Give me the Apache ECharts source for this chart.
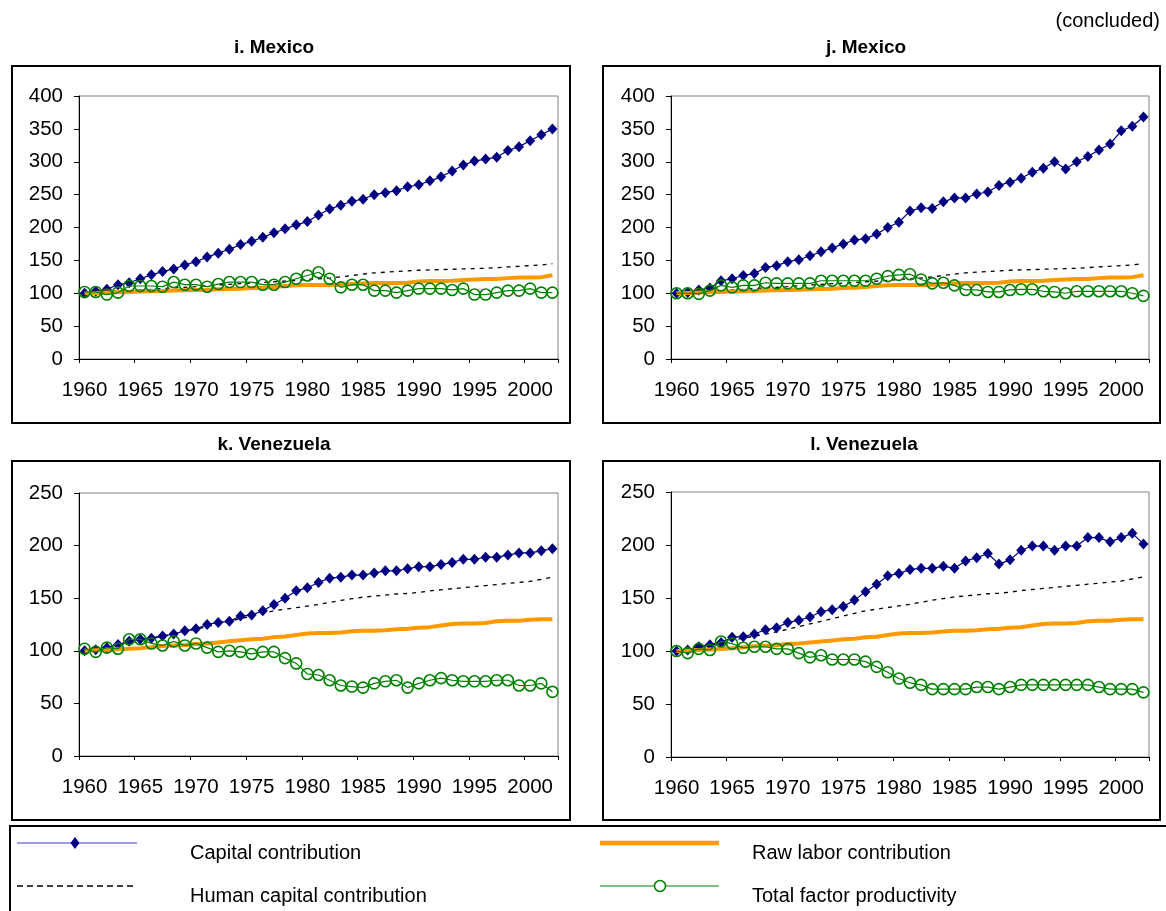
<!DOCTYPE html>
<html>
<head>
<meta charset="utf-8">
<script src="https://cdn.jsdelivr.net/npm/echarts/dist/echarts.min.js"></script>
<style>
  html, body { margin: 0; padding: 0; background: #ffffff; }
  #chart { width: 1166px; height: 911px; }
</style>
</head>
<body>
<div id="chart"></div>
<script>
// Years on the horizontal axis (one point per year)
const years = [
  '1960','1961','1962','1963','1964','1965','1966','1967','1968','1969',
  '1970','1971','1972','1973','1974','1975','1976','1977','1978','1979',
  '1980','1981','1982','1983','1984','1985','1986','1987','1988','1989',
  '1990','1991','1992','1993','1994','1995','1996','1997','1998','1999',
  '2000','2001','2002'
];

// Panel titles
const panelTitles = ['i. Mexico', 'j. Mexico', 'k. Venezuela', 'l. Venezuela'];

// Series names
const seriesNames = ['Capital contribution', 'Raw labor contribution', 'Human capital contribution', 'Total factor productivity'];

// Mexico — shared labor and human capital indices (1960 = 100)
const mexicoRawLabor = [
  100, 100.5, 101, 101.5, 102, 102.5, 103, 103.5, 104, 104.5,
  105, 105.5, 106, 106.5, 107, 108, 108.5, 109.5, 111, 112,
  112.5, 112.5, 112.5, 113, 114, 115, 115.5, 115.5, 115.5, 116,
  118, 118.5, 118.5, 119, 120, 121, 121.5, 121.5, 123, 124,
  124, 124.5, 127.5
];
const mexicoHumanCapital = [
  100, 101, 102, 103, 104, 105, 106, 107, 108, 109,
  110, 111.5, 112.5, 113.5, 114.5, 115.5, 116.5, 117.5, 118.5, 119.5,
  121, 122, 123, 125, 127, 129, 131, 132, 133, 134,
  135, 135.5, 136, 136.5, 137, 137.5, 138, 139, 140, 141,
  142, 143, 145
];

// i. Mexico
const mexicoICapital = [
  100, 103, 106, 113, 116, 122, 128, 133, 137, 143,
  148, 155, 161, 167, 174, 179, 185, 192, 198, 204,
  209, 219, 228, 234, 240, 243, 250, 253, 256, 262,
  265, 271, 277, 286, 295, 301, 304, 307, 317, 323,
  332, 341, 350
];
const mexicoITfp = [
  102, 102, 98, 101, 111, 111, 111, 110, 117, 113,
  113, 110, 114, 117, 117, 117, 113, 113, 117, 122,
  127, 132, 122, 109, 113, 113, 104, 104, 101, 104,
  107, 107, 107, 105, 107, 98, 98, 101, 104, 104,
  107, 101, 101
];

// j. Mexico
const mexicoJCapital = [
  100, 101, 105, 108, 119, 122, 127, 130, 139, 142,
  148, 151, 157, 163, 169, 175, 181, 183, 190, 200,
  208, 225, 230, 229, 239, 245, 245, 251, 254, 264,
  269, 275, 284, 290, 300, 289, 300, 308, 318, 327,
  347, 354, 368
];
const mexicoJTfp = [
  100, 100, 99, 104, 112, 109, 112, 112, 116, 115,
  115, 115, 115, 119, 119, 119, 119, 119, 122, 126,
  128, 129, 121, 115, 116, 112, 105, 105, 102, 102,
  105, 106, 106, 103, 102, 100, 103, 103, 103, 103,
  103, 100, 96
];

// Venezuela — shared labor and human capital indices (1960 = 100)
const venezuelaRawLabor = [
  100, 100.5, 101, 101.5, 102, 102.5, 103.5, 104.5, 105, 105.5,
  106.5, 107, 108, 109, 110, 111, 111.5, 113, 113.5, 115,
  116.5, 117, 117, 117.5, 118.5, 119, 119, 119.5, 120.5, 121,
  122, 122.5, 124, 125.5, 126, 126, 126.5, 128, 128.5, 128.5,
  129.5, 130, 130
];
const venezuelaHumanCapital = [
  100, 102, 104, 106, 108, 110, 112, 114, 116, 118,
  120.5, 123, 125.5, 128, 130.5, 133, 135.5, 138, 139.5, 141,
  142.5, 144, 146, 148, 149.5, 151, 152, 153, 154, 154.5,
  155.5, 157, 158, 159, 160, 161, 162, 163, 164, 165,
  166, 168, 170
];

// k. Venezuela
const venezuelaKCapital = [
  100, 101, 103, 106, 109, 111, 112, 114, 116, 119,
  121, 125, 127, 128, 133, 134, 138, 144, 150, 157,
  160, 165, 169, 170, 172, 172, 174, 176, 176, 178,
  180, 180, 182, 184, 187, 187, 189, 189, 191, 193,
  193, 195, 197
];
const venezuelaKTfp = [
  102, 99, 103, 102, 111, 111, 107, 105, 109, 105,
  107, 103, 99, 100, 99, 97, 99, 99, 93, 88,
  78, 77, 72, 67, 66, 65, 69, 71, 72, 65,
  69, 72, 74, 72, 71, 71, 71, 72, 72, 67,
  67, 69, 61
];

// l. Venezuela
const venezuelaLCapital = [
  100, 101, 104, 106, 108, 113, 113.5, 116, 120, 122,
  127, 129, 132, 137, 139, 142, 148, 156, 163, 171,
  173, 177, 178, 178, 180, 178, 185, 188, 192, 182,
  186, 195, 199, 199, 195, 199, 199, 207, 207, 203,
  207, 211, 201
];
const venezuelaLTfp = [
  100, 98, 102, 101, 109, 107, 103, 104, 104, 102,
  102, 98, 94, 96, 92, 92, 92, 90, 85, 80,
  74, 70, 68, 64, 64, 64, 64, 66, 66, 64,
  66, 68, 68, 68, 68, 68, 68, 68, 66, 64,
  64, 64, 61
];

const FONT = '"Liberation Sans", Arial, Helvetica, sans-serif';
const NAVY = '#000080';
const ORANGE = '#FF9900';
const GREEN = '#008000';

// Frame, title anchor, plot area and value range for each panel
const panels = [
  { title: panelTitles[0], tx: 274, ty: 48, box: [12, 66, 558, 357],
    grid: { left: 79, top: 96, width: 479, height: 263 }, yMax: 400,
    capital: mexicoICapital, labor: mexicoRawLabor, human: mexicoHumanCapital, tfp: mexicoITfp },
  { title: panelTitles[1], tx: 866, ty: 48, box: [603, 66, 557, 357],
    grid: { left: 671, top: 96, width: 478, height: 263 }, yMax: 400,
    capital: mexicoJCapital, labor: mexicoRawLabor, human: mexicoHumanCapital, tfp: mexicoJTfp },
  { title: panelTitles[2], tx: 274, ty: 445, box: [12, 461, 558, 359],
    grid: { left: 79, top: 493, width: 479, height: 263 }, yMax: 250,
    capital: venezuelaKCapital, labor: venezuelaRawLabor, human: venezuelaHumanCapital, tfp: venezuelaKTfp },
  { title: panelTitles[3], tx: 864, ty: 445, box: [603, 461, 557, 359],
    grid: { left: 671, top: 492, width: 478, height: 265 }, yMax: 250,
    capital: venezuelaLCapital, labor: venezuelaRawLabor, human: venezuelaHumanCapital, tfp: venezuelaLTfp }
];

const grids = [], xAxes = [], yAxes = [], series = [], graphics = [];

panels.forEach((p, i) => {
  grids.push(Object.assign({ show: true, borderColor: '#808080', borderWidth: 1, backgroundColor: '#ffffff' }, p.grid));

  xAxes.push({
    type: 'category', gridIndex: i, data: years, boundaryGap: true,
    axisLine: { show: true, lineStyle: { color: '#000000', width: 1 } },
    axisTick: { show: true, interval: 4, length: 4, lineStyle: { color: '#000000' } },
    axisLabel: { interval: 4, margin: 21, color: '#000000', fontSize: 20.5, fontFamily: FONT },
    splitLine: { show: false }
  });

  yAxes.push({
    type: 'value', gridIndex: i, min: 0, max: p.yMax, interval: 50,
    axisLine: { show: true, lineStyle: { color: '#000000', width: 1 } },
    axisTick: { show: true, length: 5, lineStyle: { color: '#000000' } },
    axisLabel: { margin: 16, color: '#000000', fontSize: 20.5, fontFamily: FONT },
    splitLine: { show: false }
  });

  series.push({
    name: seriesNames[0], type: 'line', xAxisIndex: i, yAxisIndex: i, data: p.capital,
    symbol: 'diamond', symbolSize: [10, 11], showSymbol: true, showAllSymbol: true,
    itemStyle: { color: NAVY }, lineStyle: { color: NAVY, width: 1.2 }, z: 2
  });
  series.push({
    name: seriesNames[1], type: 'line', xAxisIndex: i, yAxisIndex: i, data: p.labor,
    symbol: 'none', lineStyle: { color: ORANGE, width: 4 }, z: 3
  });
  series.push({
    name: seriesNames[2], type: 'line', xAxisIndex: i, yAxisIndex: i, data: p.human,
    symbol: 'none', lineStyle: { color: '#000000', width: 1.3, type: [4, 5] }, z: 1
  });
  series.push({
    name: seriesNames[3], type: 'line', xAxisIndex: i, yAxisIndex: i, data: p.tfp,
    symbol: 'circle', symbolSize: 11, showSymbol: true, showAllSymbol: true,
    itemStyle: { color: 'rgba(255,255,255,0)', borderColor: GREEN, borderWidth: 1.6 },
    lineStyle: { color: GREEN, width: 1.2 }, z: 5
  });

  // panel frame and heading
  graphics.push({
    type: 'rect', shape: { x: p.box[0], y: p.box[1], width: p.box[2], height: p.box[3] },
    style: { fill: 'none', stroke: '#000000', lineWidth: 2 }, z: -10, silent: true
  });
  graphics.push({
    type: 'text', x: p.tx, y: p.ty,
    style: { text: p.title, fill: '#000000', font: 'bold 19px ' + FONT, align: 'center', verticalAlign: 'middle' }
  });
});

// top-right note
graphics.push({
  type: 'text', x: 1160, y: 21,
  style: { text: '(concluded)', fill: '#000000', font: '20px ' + FONT, align: 'right', verticalAlign: 'middle' }
});

// legend frame and keys
graphics.push({
  type: 'rect', shape: { x: 10, y: 826, width: 1160, height: 92 },
  style: { fill: 'none', stroke: '#000000', lineWidth: 2 }, silent: true
});
graphics.push({ type: 'line', shape: { x1: 17, y1: 843, x2: 137, y2: 843 }, style: { stroke: '#3a3acc', lineWidth: 1 } });
graphics.push({ type: 'polygon', shape: { points: [[75, 837], [79.5, 843], [75, 849], [70.5, 843]] }, style: { fill: NAVY } });
graphics.push({ type: 'text', x: 190, y: 853, style: { text: seriesNames[0], fill: '#000000', font: '20px ' + FONT, verticalAlign: 'middle' } });

graphics.push({ type: 'line', shape: { x1: 600, y1: 843, x2: 719, y2: 843 }, style: { stroke: ORANGE, lineWidth: 4.5 } });
graphics.push({ type: 'text', x: 752, y: 853, style: { text: seriesNames[1], fill: '#000000', font: '20px ' + FONT, verticalAlign: 'middle' } });

graphics.push({ type: 'line', shape: { x1: 17, y1: 886, x2: 137, y2: 886 }, style: { stroke: '#000000', lineWidth: 1.3, lineDash: [6, 4] } });
graphics.push({ type: 'text', x: 190, y: 896, style: { text: seriesNames[2], fill: '#000000', font: '20px ' + FONT, verticalAlign: 'middle' } });

graphics.push({ type: 'line', shape: { x1: 600, y1: 886, x2: 719, y2: 886 }, style: { stroke: GREEN, lineWidth: 1.2 } });
graphics.push({ type: 'circle', shape: { cx: 660, cy: 886, r: 5.5 }, style: { fill: '#ffffff', stroke: GREEN, lineWidth: 1.5 } });
graphics.push({ type: 'text', x: 752, y: 896, style: { text: seriesNames[3], fill: '#000000', font: '20px ' + FONT, verticalAlign: 'middle' } });

const chart = echarts.init(document.getElementById('chart'), null, { renderer: 'canvas' });
chart.setOption({
  animation: false,
  backgroundColor: '#ffffff',
  textStyle: { fontFamily: FONT },
  grid: grids,
  xAxis: xAxes,
  yAxis: yAxes,
  series: series,
  graphic: { elements: graphics },
  tooltip: { show: false }
});
</script>
</body>
</html>
